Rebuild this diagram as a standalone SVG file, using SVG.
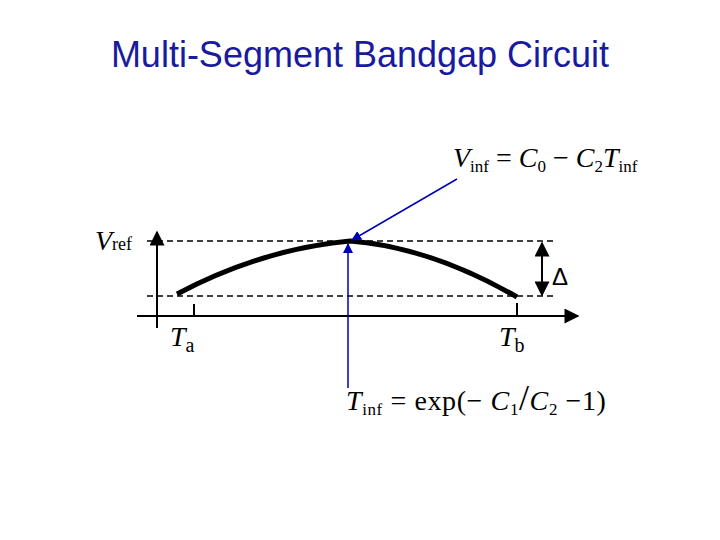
<svg xmlns="http://www.w3.org/2000/svg" width="720" height="540" viewBox="0 0 720 540">
<defs>
<marker id="ab" viewBox="0 0 10 10" refX="9" refY="5" markerWidth="10" markerHeight="10" markerUnits="userSpaceOnUse" orient="auto"><path d="M0,0 L10,5 L0,10 z" fill="#0000b0"/></marker>
<marker id="ak" viewBox="0 0 10 10" refX="9" refY="5" markerWidth="18" markerHeight="15" markerUnits="userSpaceOnUse" orient="auto-start-reverse"><path d="M0,0 L10,5 L0,10 z" fill="#000"/></marker>
</defs>
<style>
.m{font-family:"Liberation Serif",serif;fill:#000}
.dash{stroke:#000;stroke-width:1.5;stroke-dasharray:6,4;fill:none}
.ax{stroke:#000;stroke-width:2;fill:none}
.bl{stroke:#0000b0;stroke-width:1.5;fill:none}
</style>
<rect width="720" height="540" fill="#fff"/>
<text x="360" y="67" text-anchor="middle" font-family="Liberation Sans,Arial,sans-serif" font-size="36" fill="#1a1a9e">Multi-Segment Bandgap Circuit</text>
<g id="axes">
<line class="ax" x1="157" y1="328" x2="157" y2="232" marker-end="url(#ak)"/>
<line class="ax" x1="137" y1="316" x2="578" y2="316" marker-end="url(#ak)"/>
<line class="ax" x1="194" y1="304" x2="194" y2="316"/>
<line class="ax" x1="517" y1="303" x2="517" y2="316"/>
</g>
<g id="guides">
<line class="dash" x1="147" y1="241" x2="556" y2="241"/>
<line class="dash" x1="147" y1="296" x2="556" y2="296"/>
</g>
<g id="curve"><path d="M177,294 Q262,249 350,241 Q430,247 517,297" stroke="#000" stroke-width="5" fill="none"/></g>
<g id="delta"><line class="ax" x1="542" y1="243" x2="542" y2="295" marker-start="url(#ak)" marker-end="url(#ak)"/>
<text x="552" y="285" font-family="Liberation Sans,Arial,sans-serif" font-size="24">Δ</text></g>
<g id="connectors">
<line class="bl" x1="457" y1="179" x2="352" y2="240" marker-end="url(#ab)"/>
<line class="bl" x1="348" y1="388" x2="348" y2="244" marker-end="url(#ab)"/>
</g>
<g id="labels">
<text class="m" x="95" y="250" font-size="28"><tspan font-style="italic">V</tspan><tspan font-size="18" dy="0">ref</tspan></text>
<text class="m" x="170" y="346" font-size="28"><tspan font-style="italic">T</tspan><tspan font-size="20" dy="6">a</tspan></text>
<text class="m" x="499" y="346" font-size="28"><tspan font-style="italic">T</tspan><tspan font-size="20" dy="6">b</tspan></text>
<text class="m" x="453" y="167" font-size="28"><tspan font-style="italic">V</tspan><tspan font-size="17" dy="5">inf</tspan><tspan dy="-5"> = </tspan><tspan font-style="italic">C</tspan><tspan font-size="17" dy="5">0</tspan><tspan dy="-5"> − </tspan><tspan font-style="italic">C</tspan><tspan font-size="17" dy="5">2</tspan><tspan font-style="italic" dy="-5">T</tspan><tspan font-size="17" dy="5">inf</tspan></text>
<text class="m" x="346" y="410" font-size="28" letter-spacing="0.6"><tspan font-style="italic">T</tspan><tspan font-size="17" dy="5">inf</tspan><tspan dy="-5"> = exp(− </tspan><tspan font-style="italic">C</tspan><tspan font-size="17" dy="5">1</tspan><tspan dy="-5" font-size="36">/</tspan><tspan font-style="italic">C</tspan><tspan font-size="17" dy="5">2</tspan><tspan dy="-5"> −1)</tspan></text>
</g>
</svg>
